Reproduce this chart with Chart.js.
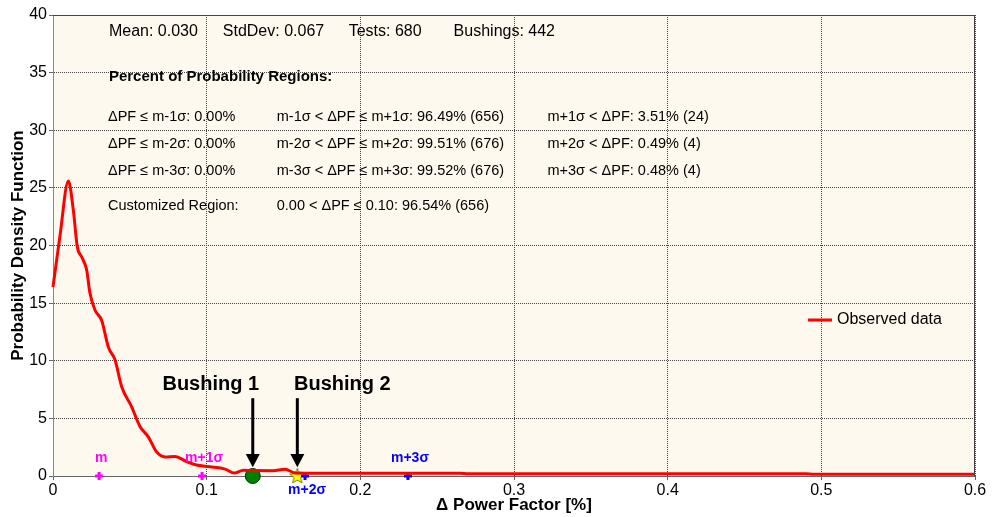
<!DOCTYPE html>
<html>
<head>
<meta charset="utf-8">
<script src="https://cdn.jsdelivr.net/npm/chart.js@4/dist/chart.umd.min.js"></script>
<style>
  html, body { margin: 0; padding: 0; background: #ffffff; }
  #wrap { width: 1000px; height: 517px; }
</style>
</head>
<body>
<div id="wrap"><canvas id="chart1" width="1000" height="517"></canvas></div>
<script>
// curva observada (PDF)
const xValues = [0, 0.0045, 0.010, 0.0132, 0.0158, 0.0187, 0.0219, 0.024, 0.0273, 0.0317, 0.036, 0.0403, 0.0447, 0.0512, 0.0566, 0.062, 0.0674, 0.0728, 0.0793, 0.087, 0.0934, 0.102, 0.112, 0.118, 0.124, 0.130, 0.143, 0.151, 0.158, 0.165, 0.2, 0.265, 0.27, 0.49, 0.495, 0.6];
const pdfValues = [16.4, 20.8, 25.6, 23.1, 19.9, 19.0, 17.9, 15.9, 14.4, 13.5, 11.2, 10.1, 7.75, 6.0, 4.3, 3.4, 2.1, 1.65, 1.7, 1.25, 0.95, 0.8, 0.6, 0.25, 0.5, 0.47, 0.46, 0.58, 0.25, 0.24, 0.24, 0.24, 0.2, 0.2, 0.16, 0.16];

// marcadores m, m+1s, m+2s, m+3s
const markerNames = ['m', 'm+1σ', 'm+2σ', 'm+3σ'];
const markerX = [0.030, 0.097, 0.164, 0.231];
const bushingNames = ['Bushing 1', 'Bushing 2'];
const bushingX = [0.130, 0.159];

const statsLine = ['Mean: 0.030', 'StdDev: 0.067', 'Tests: 680', 'Bushings: 442'];
const regionTitle = 'Percent of Probability Regions:';
const regionLow = ['ΔPF ≤ m-1σ: 0.00%', 'ΔPF ≤ m-2σ: 0.00%', 'ΔPF ≤ m-3σ: 0.00%'];
const regionMid = ['m-1σ < ΔPF ≤ m+1σ: 96.49% (656)', 'm-2σ < ΔPF ≤ m+2σ: 99.51% (676)', 'm-3σ < ΔPF ≤ m+3σ: 99.52% (676)'];
const regionHigh = ['m+1σ < ΔPF: 3.51% (24)', 'm+2σ < ΔPF: 0.49% (4)', 'm+3σ < ΔPF: 0.48% (4)'];
const customRegion = ['Customized Region:', '0.00 < ΔPF ≤ 0.10: 96.54% (656)'];

const legendLabel = 'Observed data';
const FONT = '"Liberation Sans", Arial, sans-serif';

// estrela amarela para o Bushing 2
function makeStar() {
    const c = document.createElement('canvas');
    c.width = 18; c.height = 18;
    const g = c.getContext('2d');
    g.beginPath();
    for (let i = 0; i < 10; i++) {
        const r = i % 2 === 0 ? 8 : 3.5;
        const a = -Math.PI / 2 + i * Math.PI / 5;
        const px = 9 + r * Math.cos(a), py = 9.5 + r * Math.sin(a);
        if (i === 0) g.moveTo(px, py); else g.lineTo(px, py);
    }
    g.closePath();
    g.fillStyle = '#ffff00';
    g.fill();
    g.strokeStyle = '#555500';
    g.lineWidth = 0.8;
    g.stroke();
    return c;
}

const annotations = {
    id: 'annotations',
    beforeDraw(chart) {
        const { ctx, chartArea: a } = chart;
        ctx.save();
        ctx.fillStyle = '#fef9ee';
        ctx.fillRect(a.left, a.top, a.right - a.left, a.bottom - a.top);
        ctx.restore();
    },
    afterDatasetsDraw(chart) {
        const { ctx, chartArea: a } = chart;
        const xs = chart.scales.x, ys = chart.scales.y;
        const X = v => xs.getPixelForValue(v), Y = v => ys.getPixelForValue(v);
        ctx.save();
        // moldura
        ctx.strokeStyle = '#444';
        ctx.lineWidth = 1;
        ctx.beginPath();
        ctx.moveTo(a.left, a.top + 0.5);
        ctx.lineTo(a.right - 0.5, a.top + 0.5);
        ctx.lineTo(a.right - 0.5, a.bottom);
        ctx.stroke();

        ctx.fillStyle = '#000';
        ctx.textBaseline = 'middle';
        ctx.textAlign = 'left';
        ctx.font = '16px ' + FONT;
        const statX = [0.0364, 0.1105, 0.1924, 0.2607];
        statsLine.forEach((t, i) => ctx.fillText(t, X(statX[i]), Y(38.6)));
        ctx.font = 'bold 15px ' + FONT;
        ctx.fillText(regionTitle, X(0.0364), Y(34.6));
        ctx.font = '14.5px ' + FONT;
        const rowY = [31.15, 28.8, 26.45];
        rowY.forEach((yy, i) => {
            ctx.fillText(regionLow[i], X(0.0358), Y(yy));
            ctx.fillText(regionMid[i], X(0.1456), Y(yy));
            ctx.fillText(regionHigh[i], X(0.3218), Y(yy));
        });
        ctx.fillText(customRegion[0], X(0.0358), Y(23.4));
        ctx.fillText(customRegion[1], X(0.1456), Y(23.4));

        // rótulos dos marcadores
        ctx.font = 'bold 14px ' + FONT;
        ctx.textAlign = 'center';
        markerNames.forEach((t, i) => {
            ctx.fillStyle = i < 2 ? '#ff00ff' : '#0000ff';
            const below = i === 2;
            ctx.fillText(t, X(markerX[i]) + 2, Y(0) + (below ? 14 : -18));
        });

        // setas dos bushings
        ctx.fillStyle = '#000';
        ctx.strokeStyle = '#000';
        ctx.font = 'bold 20px ' + FONT;
        bushingNames.forEach((t, i) => {
            const bx = X(bushingX[i]);
            ctx.fillText(t, bx - (i === 0 ? 42 : -45), Y(7.9));
            ctx.lineWidth = 3;
            ctx.beginPath();
            ctx.moveTo(bx, Y(6.75));
            ctx.lineTo(bx, Y(1.6));
            ctx.stroke();
            ctx.beginPath();
            ctx.moveTo(bx - 7, Y(1.9));
            ctx.lineTo(bx + 7, Y(1.9));
            ctx.lineTo(bx, Y(0.75));
            ctx.closePath();
            ctx.fill();
        });

        // legenda
        ctx.strokeStyle = '#ff0000';
        ctx.lineWidth = 3;
        ctx.beginPath();
        ctx.moveTo(808, 320);
        ctx.lineTo(832, 320);
        ctx.stroke();
        ctx.fillStyle = '#000';
        ctx.textAlign = 'left';
        ctx.font = '16px ' + FONT;
        ctx.fillText(legendLabel, 837, 320);
        ctx.restore();
    }
};

function createChart() {
    const ctx = document.getElementById('chart1').getContext('2d');
    const gridOpts = {
        color: '#444',
        lineWidth: 1,
        tickBorderDash: [],
        tickColor: '#666',
        tickLength: 4
    };
    new Chart(ctx, {
        type: 'scatter',
        data: {
            datasets: [
                {
                    label: legendLabel,
                    data: xValues.map((x, i) => ({ x: x, y: pdfValues[i] })),
                    showLine: true,
                    borderColor: '#ff0000',
                    borderWidth: 3,
                    pointRadius: 0,
                    cubicInterpolationMode: 'monotone',
                    clip: false
                },
                {
                    label: 'sigma',
                    data: markerX.map(x => ({ x: x, y: 0 })),
                    pointStyle: 'cross',
                    pointRadius: 4,
                    borderWidth: 3,
                    borderColor: ['#ff00ff', '#ff00ff', '#0000ff', '#0000ff'],
                    clip: false
                },
                {
                    label: 'Bushing 1',
                    data: [{ x: bushingX[0], y: 0 }],
                    pointStyle: 'circle',
                    pointRadius: 7.5,
                    backgroundColor: '#007f00',
                    borderColor: '#003300',
                    borderWidth: 1,
                    clip: false
                },
                {
                    label: 'Bushing 2',
                    data: [{ x: bushingX[1], y: 0 }],
                    pointStyle: makeStar(),
                    clip: false
                }
            ]
        },
        options: {
            responsive: false,
            animation: false,
            layout: { padding: { left: 0, right: 25, top: 15, bottom: 0 } },
            plugins: {
                legend: { display: false },
                tooltip: { enabled: false }
            },
            scales: {
                x: {
                    type: 'linear',
                    min: 0,
                    max: 0.6,
                    ticks: { stepSize: 0.1, color: '#000', padding: 1, font: { family: FONT, size: 16 } },
                    grid: gridOpts,
                    border: { display: true, color: '#666', width: 1, dash: [1, 1] },
                    title: {
                        display: true,
                        text: 'Δ Power Factor [%]',
                        color: '#000',
                        font: { family: FONT, size: 17, weight: 'bold' },
                        padding: { top: 0, bottom: 1 }
                    },
                    afterFit(scale) { scale.height = 41; }
                },
                y: {
                    min: 0,
                    max: 40,
                    ticks: { stepSize: 5, color: '#000', padding: 2, font: { family: FONT, size: 16 } },
                    grid: gridOpts,
                    border: { display: true, color: '#888', width: 1, dash: [1, 1] },
                    title: {
                        display: true,
                        text: 'Probability Density Function',
                        color: '#000',
                        font: { family: FONT, size: 17, weight: 'bold' },
                        padding: { top: 8, bottom: 0 }
                    },
                    afterFit(scale) { scale.width = 53; }
                }
            }
        },
        plugins: [annotations]
    });
}

window.onload = function () {
    createChart();
};
</script>
</body>
</html>
